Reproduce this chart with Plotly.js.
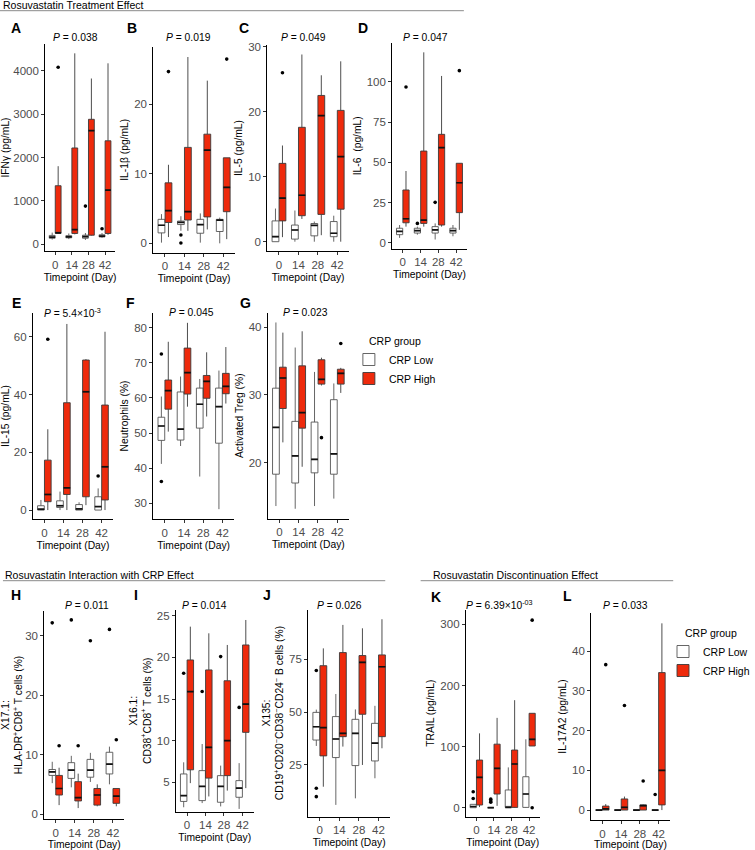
<!DOCTYPE html>
<html><head><meta charset="utf-8">
<script src="https://cdn.plot.ly/plotly-3.0.1.min.js"></script>
<style>html,body{margin:0;padding:0;background:#fff}#chart{width:755px;height:850px}</style>
</head><body><div id="chart"></div>
<script>
const days = ['0','14','28','42'];
const groups = ['CRP Low','CRP High'];
// Each row: [lower whisker, Q1, median, Q3, upper whisker] for days 0,14,28,42
const IFNg_low  = [[110,140,165,205,270],[120,150,170,200,250],[100,140,175,210,260],[150,170,190,220,260]];
const IFNg_high = [[250,253,262,1350,1800],[230,250,340,2220,4400],[200,210,2620,2880,3820],[220,250,1250,2385,4170]];
const IFNg_low_out  = [[],[],[880],[360]];
const IFNg_high_out = [[4080],[],[],[]];

const IL1b_low  = [[0.1,1.5,2.6,3.45,4.2],[1.8,2.7,3.0,3.2,3.9],[0.1,1.45,2.7,3.45,4.3],[0,1.7,3.35,3.45,3.7]];
const IL1b_high = [[0.9,3.0,4.7,8.7,11.3],[1.8,3.35,4.55,13.8,26.8],[2.0,3.8,13.4,15.7,23.4],[0.6,4.55,8.05,12.3,12.3]];
const IL1b_low_out  = [[],[1.2,0.05],[],[]];
const IL1b_high_out = [[24.7],[],[],[26.5]];

const IL5_low  = [[0,0,0.77,3.2,5.1],[0,0.4,1.8,2.56,4.8],[0,0.9,2.5,2.8,3.1],[0,0.77,1.3,3.1,4.0]];
const IL5_high = [[0.7,3.2,6.7,12.05,14.8],[3.5,4.0,7.15,17.6,28.8],[1.0,4.2,19.4,22.5,25.6],[0,5.0,13.1,20.2,27.75]];
const IL5_low_out  = [[],[],[],[]];
const IL5_high_out = [[26.0],[],[],[]];

const IL6_low  = [[3,5,7,9,11],[5,6,7.5,9,10],[2,6,8,10,12],[4,6,7.5,9,11]];
const IL6_high = [[10,12.4,14.9,32.8,44.6],[10,12,14,57,118.4],[10,11,59.1,67.4,103.7],[8,18.7,37.3,49.4,49.5]];
const IL6_low_out  = [[],[12],[25.1],[]];
const IL6_high_out = [[96.8],[],[],[107]];

const IL15_low  = [[0,0,0.3,1.5,3.5],[0,0.9,1.5,3.2,6.4],[0,0,0.4,1.9,2.7],[0,0,1.2,4.6,7.5]];
const IL15_high = [[0,2.9,5.4,17.3,28],[0,5.4,7.7,37.2,64.5],[1.7,4.6,41.0,52.0,52.3],[0,3.5,15.0,36.4,61.8]];
const IL15_low_out  = [[],[],[],[11.8]];
const IL15_high_out = [[59.2],[],[],[]];

const Neut_low  = [[41.2,47.9,52.0,54.5,60.4],[46.3,48.0,51.1,61.7,66.1],[37.6,51.4,58.2,62.8,65.4],[28.3,47.1,57.5,62.8,67.8]];
const Neut_high = [[50.4,56.8,62.1,65.1,76.0],[57.5,61.1,67.2,74.2,81.4],[54.7,59.9,64.7,66.4,73.0],[58.4,61.2,63.3,67.0,74.5]];
const Neut_low_out  = [[72.5,36.2],[],[],[]];
const Neut_high_out = [[],[],[],[]];

const Treg_low  = [[13.6,18.3,25.2,31.0,40.7],[13.2,17.0,21.0,26.1,37.0],[13.6,18.5,20.5,26.0,33.4],[14.7,18.3,21.3,29.3,31.7]];
const Treg_high = [[23.0,28.0,32.5,34.1,39.2],[19.4,25.1,27.4,34.3,39.4],[31.4,31.6,32.3,35.2,35.5],[30.3,31.6,33.2,33.8,34.0]];
const Treg_low_out  = [[],[],[],[]];
const Treg_high_out = [[],[],[23.7],[37.6]];

const X171_low  = [[5.2,6.5,7.1,7.5,8.8],[4.5,6.0,7.4,8.65,9.8],[5.4,6.2,7.4,9.2,10.3],[5.0,6.75,8.4,10.4,11.35]];
const X171_high = [[1.5,3.2,4.3,6.5,7.8],[1.0,2.2,2.75,5.45,6.8],[1.3,1.5,3.2,4.3,5.0],[1.3,1.8,3.0,4.3,4.3]];
const X171_low_out  = [[32.2],[32.7],[29.2],[31.1]];
const X171_high_out = [[11.5],[11.5],[],[12.5]];

const X161_low  = [[2.0,2.7,3.4,6.0,7.4],[2.5,2.8,4.5,6.4,9.6],[2.1,2.6,4.5,5.8,7.0],[1.8,3.2,4.3,5.2,7.3]];
const X161_high = [[4.9,6.5,15.9,19.7,23.7],[3.3,5.5,9.2,18.5,22.9],[4.0,5.8,10.0,17.2,21.5],[4.3,11.0,14.4,21.5,24.5]];
const X161_low_out  = [[18.1],[15.9],[20.1],[14.0]];
const X161_high_out = [[],[],[],[]];

const X135_low  = [[34.0,36.8,43.1,49.9,51.2],[6.1,28.5,37.3,47.9,58.6],[9.2,24.7,40.0,46.6,51.3],[18.7,26.9,35.3,44.7,53.0]];
const X135_high = [[14.7,29.3,42.7,72.0,80.2],[33.7,38.4,40.0,78.2,91.3],[25.0,49.0,73.6,76.8,89.7],[32.9,38.4,71.5,77.1,94.0]];
const X135_low_out  = [[69.7,14.0,10.0],[],[],[]];
const X135_high_out = [[],[],[],[]];

const TRAIL_low  = [[0,0,2,5.5,5.5],[0,0,0,0,0],[0,0.5,0.5,29,66],[0,0.5,22.4,50.7,112]];
const TRAIL_high = [[1,4.4,49.7,78,121.7],[3,22.4,64.4,104,147],[0,0.5,71.5,94.4,176],[101,101,112,154.5,154.5]];
const TRAIL_low_out  = [[26,15],[14,11,9],[],[]];
const TRAIL_high_out = [[],[],[],[307,0]];

const IL17_low  = [[0,0,0,0,0],[0,0,0,0,0],[0,0,0,0,0],[0,0,0,0,0]];
const IL17_high = [[0,0,0.3,1.0,1.5],[0,0,0.7,2.8,3.4],[0,0,1.1,1.3,1.4],[0,1.3,10.0,34.6,47.0]];
const IL17_low_out  = [[],[],[],[3.9]];
const IL17_high_out = [[36.6],[26.3],[7.3],[]];

const W = 755, H = 850;
const FONT = 'Liberation Sans, Arial, sans-serif';
const RED = '#EE2A0C';
const OFF = 0.18, BW = 0.35;

const panels = [
 {box:[46,117,44,251], yr:[-154,4615], yt:[0,1000,2000,3000,4000], title:'IFNγ (pg/mL)', low:IFNg_low, high:IFNg_high, lo:IFNg_low_out, ho:IFNg_high_out, L:'A', lp:[16,28.3], p:'<i>P</i> = 0.038', pp:[77,37.3], leg:'legend'},
 {box:[156,239,47,252.5], yr:[-1.32,28.24], yt:[0,10,20], title:'IL-1β (pg/mL)', low:IL1b_low, high:IL1b_high, lo:IL1b_low_out, ho:IL1b_high_out, L:'B', lp:[134,28.3], p:'<i>P</i> = 0.019', pp:[192,37.3]},
 {box:[272,355,45,251], yr:[-1.43,30.26], yt:[0,10,20,30], title:'IL-5 (pg/mL)', low:IL5_low, high:IL5_high, lo:IL5_low_out, ho:IL5_high_out, L:'C', lp:[248.5,28.3], p:'<i>P</i> = 0.049', pp:[309,37.3]},
 {box:[399,475,43,248.5], yr:[-3.6,124.2], yt:[0,25,50,75,100,125], title:'IL-6  (pg/mL)', low:IL6_low, high:IL6_high, lo:IL6_low_out, ho:IL6_high_out, L:'D', lp:[369,28.3], p:'<i>P</i> = 0.047', pp:[433,37.3]},
 {box:[33.5,115,313,519], yr:[-3.1,68.3], yt:[0,20,40,60], title:'IL-15 (pg/mL)', low:IL15_low, high:IL15_high, lo:IL15_low_out, ho:IL15_high_out, L:'E', lp:[16.7,303.3], p:'<i>P</i> = 5.4×10<sup>-3</sup>', pp:[73.3,313]},
 {box:[156,238,313,519], yr:[25.5,84.2], yt:[30,40,50,60,70,80], title:'Neutrophils (%)', low:Neut_low, high:Neut_high, lo:Neut_low_out, ho:Neut_high_out, L:'F', lp:[133,303.3], p:'<i>P</i> = 0.045', pp:[195,313]},
 {box:[272.5,355,313,518.5], yr:[11.76,42.1], yt:[20,30,40], title:'Activated Treg (%)', low:Treg_low, high:Treg_high, lo:Treg_low_out, ho:Treg_high_out, L:'G', lp:[250,303.3], p:'<i>P</i> = 0.023', pp:[311,313]},
 {box:[45,126.5,611,819], yr:[-0.84,34.2], yt:[0,10,20,30], title:'X17.1:<br>HLA-DR<sup>+</sup>CD8<sup>+</sup> T cells (%)', low:X171_low, high:X171_high, lo:X171_low_out, ho:X171_high_out, L:'H', lp:[16,595], p:'<i>P</i> = 0.011', pp:[88.3,605]},
 {box:[179,258,610,811.5], yr:[1.49,25.7], yt:[5,10,15,20,25], title:'X16.1:<br>CD38<sup>+</sup>CD8<sup>+</sup> T cells (%)', low:X161_low, high:X161_high, lo:X161_low_out, ho:X161_high_out, L:'I', lp:[138,595], p:'<i>P</i> = 0.014', pp:[208.3,605]},
 {box:[313.5,397,609.5,816.5], yr:[0.6,98.6], yt:[25,50,75], title:'X135:<br>CD19<sup>+</sup>CD20<sup>−</sup>CD38<sup>−</sup>CD24<sup>−</sup> B cells (%)', low:X135_low, high:X135_high, lo:X135_low_out, ho:X135_high_out, L:'J', lp:[272,595], p:'<i>P</i> = 0.026', pp:[345.7,605]},
 {box:[474,549,610,816.5], yr:[-14.4,323.6], yt:[0,100,200,300], title:'TRAIL (pg/mL)', low:TRAIL_low, high:TRAIL_high, lo:TRAIL_low_out, ho:TRAIL_high_out, L:'K', lp:[444,596.7], p:'<i>P</i> = 6.39×10<sup>-03</sup>', pp:[508.3,604]},
 {box:[601.5,681.5,613,820], yr:[-2.5,49.6], yt:[0,10,20,30,40], title:'IL-17A2 (pg/mL)', low:IL17_low, high:IL17_high, lo:IL17_low_out, ho:IL17_high_out, L:'L', lp:[577,596], p:'<i>P</i> = 0.033', pp:[636.7,605], leg:'legend2'}
];

const traces = [], annotations = [], shapes = [];
const legFont = {size:10.5,color:'#000',family:FONT};
const layout = {
  width: W, height: H, margin:{l:0,r:0,t:0,b:0}, paper_bgcolor:'#fff', plot_bgcolor:'rgba(0,0,0,0)',
  font:{family:FONT, color:'#000'}, showlegend:true, hovermode:false,
  legend:{x:355/W, y:1-345/H, xanchor:'left', yanchor:'top', font:legFont, itemwidth:30, bgcolor:'rgba(0,0,0,0)', tracegroupgap:0},
  legend2:{x:675/W, y:1-637/H, xanchor:'left', yanchor:'top', font:legFont, itemwidth:30, bgcolor:'rgba(0,0,0,0)', tracegroupgap:0},
  annotations, shapes
};

function col(a,k){ return a.map(r=>r[k]); }

panels.forEach((P,i)=>{
  const n = i===0 ? '' : String(i+1);
  const xa = 'x'+n, ya = 'y'+n;
  const pos = [0,1,2,3];
  [[P.low, -OFF, '#FFFFFF', '#555555', P.lo, 0],[P.high, OFF, RED, '#3a3a3a', P.ho, 1]].forEach(([d, off, fill, lc, outs, g])=>{
    traces.push({type:'box', xaxis:xa, yaxis:ya, x:pos.map(p=>p+off), width:BW,
      lowerfence:col(d,0), q1:col(d,1), median:col(d,2), q3:col(d,3), upperfence:col(d,4),
      fillcolor:fill, line:{color:lc, width:0.9}, whiskerwidth:0, boxpoints:false,
      name:groups[g], showlegend: !!P.leg, legend: P.leg || 'legend', hoverinfo:'skip'});
    // thick median bars (ggplot style), drawn from the same medians
    const mx=[], my=[];
    d.forEach((r,k)=>{ mx.push(pos[k]+off-BW/2, pos[k]+off+BW/2, null); my.push(r[2], r[2], null); });
    traces.push({type:'scatter', mode:'lines', xaxis:xa, yaxis:ya, x:mx, y:my, line:{color:'#111', width:1.7},
      showlegend:false, hoverinfo:'skip'});
    const ox=[], oy=[];
    outs.forEach((vals,k)=>vals.forEach(v=>{ox.push(pos[k]+off); oy.push(v);}));
    if (ox.length) traces.push({type:'scatter', mode:'markers', xaxis:xa, yaxis:ya, x:ox, y:oy,
      marker:{color:'#000', size:3.6}, showlegend:false, hoverinfo:'skip', cliponaxis:false});
  });
  const [x0,x1,y0,y1] = P.box;
  layout['xaxis'+n] = {domain:[x0/W, x1/W], anchor:ya, range:[-0.6,3.6], tickvals:pos, ticktext:days,
    showline:true, linecolor:'#000', linewidth:1, ticks:'outside', ticklen:3, tickwidth:1, tickcolor:'#333',
    tickfont:{size:11.5, color:'#4d4d4d', family:FONT}, showgrid:false, zeroline:false, fixedrange:true,
    title:{text:'Timepoint (Day)', font:{size:10.3, color:'#000', family:FONT}, standoff:3}};
  layout['yaxis'+n] = {domain:[1-y1/H, 1-y0/H], anchor:xa, range:P.yr, tickvals:P.yt,
    showline:true, linecolor:'#000', linewidth:1, ticks:'outside', ticklen:3, tickwidth:1, tickcolor:'#333',
    tickfont:{size:11.5, color:'#4d4d4d', family:FONT}, showgrid:false, zeroline:false, fixedrange:true,
    title:{text:P.title, font:{size:10.3, color:'#000', family:FONT}, standoff:3}};
  annotations.push({xref:'paper', yref:'paper', x:P.lp[0]/W, y:1-P.lp[1]/H, text:'<b>'+P.L+'</b>', showarrow:false,
    xanchor:'center', yanchor:'middle', font:{size:14, color:'#000', family:FONT}});
  annotations.push({xref:'paper', yref:'paper', x:P.pp[0]/W, y:1-P.pp[1]/H, text:P.p, showarrow:false,
    xanchor:'center', yanchor:'middle', font:{size:10.3, color:'#000', family:FONT}});
});

// legend titles
[[373,341],[695,633]].forEach(([x,y])=>annotations.push({xref:'paper', yref:'paper', x:x/W, y:1-y/H, text:'CRP group',
  showarrow:false, xanchor:'left', yanchor:'middle', font:legFont}));

// section headers
const headers = [
  {t:'Rosuvastatin Treatment Effect', tx:1, ty:5, lx0:0, lx1:472, ly:10.7},
  {t:'Rosuvastatin Interaction with CRP Effect', tx:3.5, ty:575, lx0:3, lx1:392, ly:580.7},
  {t:'Rosuvastatin Discontinuation Effect', tx:438.5, ty:575, lx0:428, lx1:685, ly:580.7}
];
headers.forEach(h=>{
  annotations.push({xref:'paper', yref:'paper', x:h.tx/W, y:1-h.ty/H, text:h.t, showarrow:false,
    xanchor:'left', yanchor:'middle', font:{size:10.5, color:'#000', family:FONT}});
  shapes.push({type:'line', xref:'paper', yref:'paper', x0:h.lx0/W, x1:h.lx1/W, y0:1-h.ly/H, y1:1-h.ly/H,
    line:{color:'#8a8a8a', width:1}});
});

Plotly.newPlot('chart', traces, layout, {staticPlot:true, displayModeBar:false});
</script></body></html>
